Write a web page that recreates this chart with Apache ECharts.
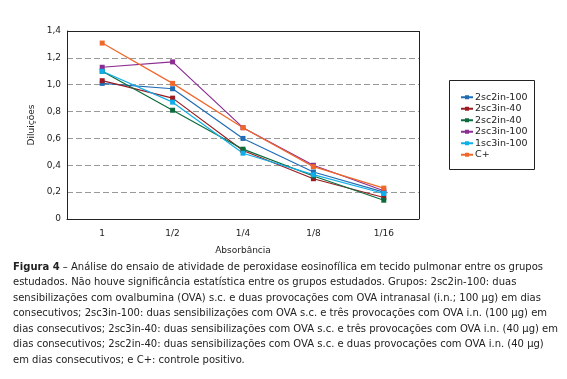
<!DOCTYPE html>
<html><head><meta charset="utf-8">
<script src="https://cdn.jsdelivr.net/npm/echarts@6/dist/echarts.min.js"></script>
<style>html,body{margin:0;padding:0;background:#fff}#c{width:567px;height:379px}</style>
</head><body><div id="c"></div>
<script>
const categories = ['1', '1/2', '1/4', '1/8', '1/16'];
const seriesNames = ['2sc2in-100', '2sc3in-40', '2sc2in-40', '2sc3in-100', '1sc3in-100', 'C+'];
const s2sc2in100 = [1.01, 0.97, 0.60, 0.35, 0.20];
const s2sc3in40 = [1.03, 0.90, 0.51, 0.30, 0.16];
const s2sc2in40 = [1.10, 0.81, 0.52, 0.32, 0.14];
const s2sc3in100 = [1.13, 1.17, 0.68, 0.40, 0.21];
const s1sc3in100 = [1.10, 0.87, 0.49, 0.33, 0.19];
const sCpos = [1.31, 1.01, 0.68, 0.39, 0.23];
const yTicks = [0, 0.2, 0.4, 0.6, 0.8, 1.0, 1.2, 1.4];
const colors = ['#1f6db5', '#9a1c22', '#0c6b3c', '#8b2d91', '#10aee8', '#f0672a'];
const captionLines = [
  [' – Análise do ensaio de atividade de peroxidase eosinofílica em tecido pulmonar entre os grupos', true],
  ['estudados. Não houve significância estatística entre os grupos estudados. Grupos: 2sc2in-100: duas', false],
  ['sensibilizações com ovalbumina (OVA) s.c. e duas provocações com OVA intranasal (i.n.; 100 µg) em dias', false],
  ['consecutivos; 2sc3in-100: duas sensibilizações com OVA s.c. e três provocações com OVA i.n. (100 µg) em', false],
  ['dias consecutivos; 2sc3in-40: duas sensibilizações com OVA s.c. e três provocações com OVA i.n. (40 µg) em', false],
  ['dias consecutivos; 2sc2in-40: duas sensibilizações com OVA s.c. e duas provocações com OVA i.n. (40 µg)', false],
  ['em dias consecutivos; e C+: controle positivo.', false]
];
const allData = [s2sc2in100, s2sc3in40, s2sc2in40, s2sc3in100, s1sc3in100, sCpos];

const chart = echarts.init(document.getElementById('c'));
const fontFam = '"DejaVu Sans", sans-serif';
const graphics = [
  {type: 'rect', z: 100, shape: {x: 449.5, y: 80.5, width: 85, height: 89}, style: {fill: 'none', stroke: '#222', lineWidth: 1}},
  {type: 'line', z: 100, shape: {x1: 67, y1: 31.5, x2: 419, y2: 31.5}, style: {stroke: '#222', lineWidth: 1}},
  {type: 'line', z: 100, shape: {x1: 419.5, y1: 31, x2: 419.5, y2: 219}, style: {stroke: '#222', lineWidth: 1}}
];
captionLines.forEach(function (l, i) {
  graphics.push({
    type: 'text', left: 13, top: 262 + i * 15.5,
    style: {
      text: l[1] ? '{b|Figura 4}' + l[0] : l[0],
      font: '10px ' + fontFam, fill: '#222',
      rich: {b: {fontWeight: 'bold', fontSize: 10, fontFamily: fontFam, fill: '#222'}}
    }
  });
});
chart.setOption({
  animation: false,
  color: colors,
  grid: {left: 67, right: 148, top: 31, bottom: 160},
  legend: {
    orient: 'vertical', left: 460, top: 92, padding: 0, itemWidth: 12, itemHeight: 5, itemGap: 1,
    textStyle: {fontSize: 9.5, lineHeight: 10.5, fontFamily: fontFam, color: '#222', padding: [0, 0, 0, -3]},
    data: seriesNames
  },
  xAxis: {
    type: 'category', data: categories, boundaryGap: true,
    name: 'Absorbância', nameLocation: 'middle', nameGap: 27,
    nameTextStyle: {fontSize: 9, fontFamily: fontFam, color: '#222'},
    axisLine: {lineStyle: {color: '#222'}}, axisTick: {show: false},
    axisLabel: {fontSize: 9, fontFamily: fontFam, color: '#222', margin: 10}
  },
  yAxis: {
    type: 'value', min: 0, max: 1.4, interval: 0.2,
    name: 'Diluições', nameLocation: 'middle', nameGap: 29,
    nameTextStyle: {fontSize: 9, fontFamily: fontFam, color: '#222'},
    axisLine: {show: true, lineStyle: {color: '#222'}}, axisTick: {show: false},
    axisLabel: {fontSize: 9, fontFamily: fontFam, color: '#222', margin: 6,
      formatter: function (v) { return v === 0 ? '0' : v.toFixed(1).replace('.', ','); }},
    splitLine: {lineStyle: {color: '#999', type: [6, 3], width: 1}}
  },
  series: seriesNames.map(function (n, i) {
    return {name: n, type: 'line', data: allData[i], symbol: 'rect', symbolSize: 5,
      lineStyle: {width: 1.2}, itemStyle: {color: colors[i]}};
  }),
  graphic: graphics
});
</script></body></html>
